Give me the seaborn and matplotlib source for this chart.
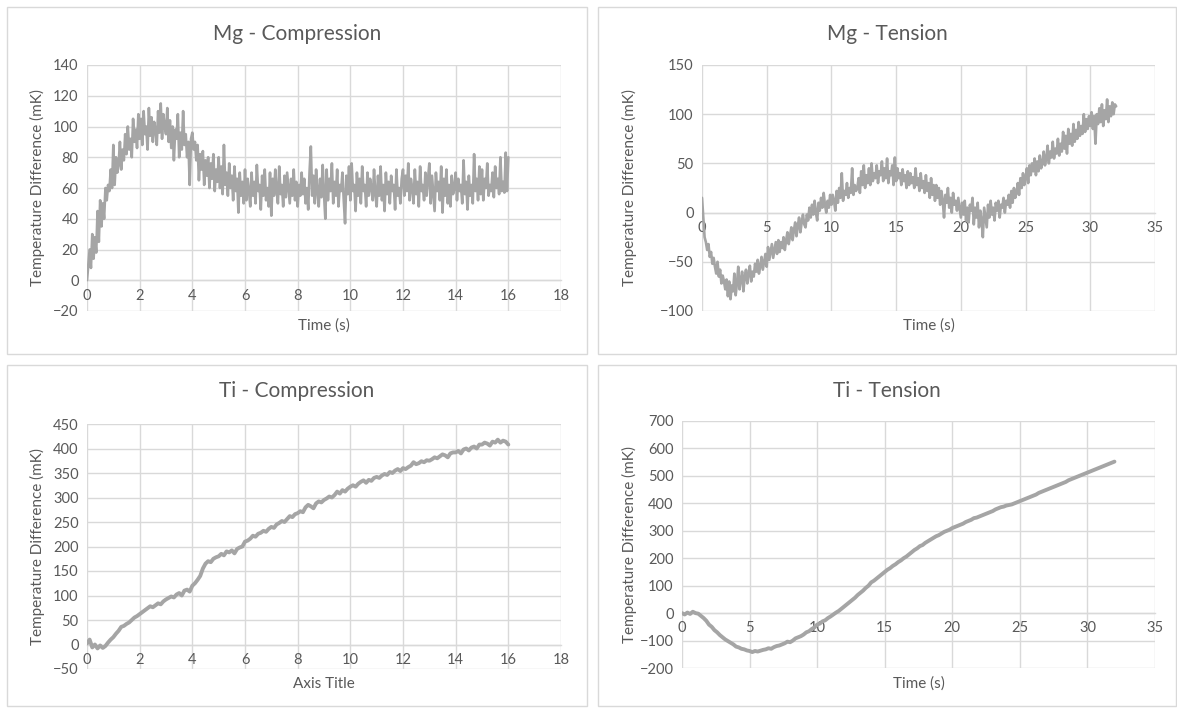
import numpy as np
import pandas as pd
import seaborn as sns
import matplotlib
matplotlib.use("Agg")
import matplotlib.pyplot as plt
from matplotlib.patches import Rectangle

# ---------------- data ----------------
# Mg compression, 0..16 s, every 0.05 s
mg_comp_vals = [
    0, 10, 20, 8, 30, 14, 28, 18, 45, 25, 52, 35, 50, 40, 60, 52, 62, 58, 72, 60,
    88, 62, 80, 70, 75, 90, 72, 85, 78, 95, 82, 100, 85, 92, 80, 105, 90, 98, 86, 108,
    92, 105, 88, 110, 95, 100, 85, 112, 94, 106, 90, 103, 98, 88, 110, 96, 115, 92, 108, 100,
    95, 112, 90, 104, 86, 100, 78, 98, 92, 108, 80, 96, 85, 110, 88, 95, 80, 90, 62, 92,
    96, 85, 90, 78, 88, 65, 82, 72, 84, 62, 78, 68, 80, 60, 76, 66, 82, 58, 72, 64,
    80, 60, 74, 56, 88, 62, 70, 55, 76, 60, 68, 52, 74, 58, 66, 44, 70, 55, 64, 50,
    72, 52, 66, 58, 48, 70, 55, 64, 50, 75, 58, 62, 46, 68, 55, 72, 52, 60, 48, 70,
    42, 66, 55, 72, 58, 50, 74, 56, 62, 48, 68, 54, 70, 60, 50, 66, 55, 72, 52, 64,
    48, 62, 55, 70, 56, 66, 50, 60, 46, 70, 87, 55, 68, 50, 72, 58, 48, 66, 54, 75,
    56, 40, 72, 52, 66, 58, 76, 50, 64, 55, 72, 48, 62, 58, 70, 52, 37, 68, 56, 74,
    52, 76, 58, 62, 45, 70, 55, 66, 50, 74, 58, 62, 48, 70, 55, 66, 60, 52, 72, 56,
    48, 68, 55, 74, 52, 62, 45, 70, 56, 64, 50, 68, 58, 62, 46, 72, 55, 60, 50, 66,
    72, 55, 68, 58, 76, 52, 66, 60, 50, 72, 56, 64, 48, 74, 58, 62, 52, 70, 55, 66,
    76, 50, 68, 56, 45, 70, 58, 64, 52, 74, 44, 66, 55, 72, 50, 62, 48, 68, 56, 60,
    70, 52, 66, 58, 62, 50, 78, 56, 64, 46, 68, 55, 62, 50, 82, 58, 66, 52, 74, 56,
    72, 52, 66, 60, 76, 55, 62, 58, 70, 54, 74, 60, 66, 56, 80, 58, 64, 57, 83, 58,
    80,
]

# Mg tension, 0..32 s, every 0.1 s
mg_tens_vals = [
    15, -5, -25, -30, -38, -32, -45, -40, -52, -46, -55, -62, -50, -65, -58, -72, -64, -70, -78, -68,
    -85, -70, -88, -74, -80, -62, -84, -72, -55, -78, -68, -60, -80, -65, -58, -72, -62, -54, -70, -60,
    -65, -52, -60, -48, -62, -55, -45, -58, -50, -42, -55, -35, -48, -40, -32, -46, -38, -30, -42, -28,
    -40, -30, -36, -25, -38, -28, -20, -32, -24, -15, -28, -18, -10, -24, -14, -5, -20, -10, -2, -12,
    -15, -2, -8, 5, -5, 8, -2, 12, 0, -8, 10, 2, 15, 5, 20, 8, 0, 12, 5, 18,
    8, 18, 12, 2, 22, 10, 25, 15, 40, 12, 22, 18, 30, 15, 25, 20, 45, 18, 28, 22,
    25, 35, 20, 42, 28, 48, 25, 38, 30, 45, 28, 50, 32, 40, 35, 48, 30, 42, 38, 52,
    32, 45, 35, 55, 30, 42, 38, 48, 28, 56, 32, 45, 35, 40, 28, 44, 32, 38, 25, 42,
    28, 40, 30, 36, 25, 45, 28, 35, 22, 40, 25, 32, 20, 38, 22, 30, 15, 35, 18, 28,
    12, 28, 15, 25, 8, 22, 12, -5, 18, 10, 25, 5, 15, 0, 20, 8, 12, 2, 15, 5,
    -5, 10, -2, 12, -8, 5, -10, 8, 2, 15, -12, 5, -5, 10, -15, 2, -8, -25, 5, -5,
    -15, 8, -5, 12, -2, 5, -8, 10, 2, 12, -5, 8, 5, 15, 0, 12, 8, 18, 5, 22,
    10, 25, 15, 20, 30, 18, 35, 25, 40, 28, 35, 45, 30, 48, 38, 50, 42, 55, 38, 52,
    42, 58, 45, 50, 62, 48, 55, 68, 50, 62, 56, 72, 55, 65, 60, 75, 58, 70, 62, 82,
    65, 78, 60, 85, 70, 80, 68, 90, 72, 84, 75, 92, 78, 88, 80, 100, 82, 95, 85, 98,
    88, 102, 85, 98, 70, 100, 90, 106, 92, 110, 88, 104, 95, 115, 92, 108, 98, 112, 100, 110,
    108,
]

# Ti compression, 0..16 s, every 0.1 s
ti_comp_vals = [
    2, 10, -6, 0, -8, -2, -7, -3, 4, 10,
    15, 22, 28, 36, 38, 42, 45, 50, 55, 58,
    62, 66, 70, 74, 78, 76, 80, 84, 82, 88,
    92, 95, 98, 96, 102, 105, 100, 110, 112, 108,
    120, 125, 132, 140, 155, 165, 170, 168, 175, 178,
    180, 185, 182, 190, 188, 192, 186, 195, 198, 200,
    210, 212, 216, 222, 220, 226, 228, 232, 230, 236,
    240, 238, 245, 248, 252, 250, 256, 262, 260, 266,
    268, 272, 270, 280, 285, 282, 278, 288, 292, 290,
    295, 298, 302, 300, 305, 312, 308, 315, 312, 318,
    322, 325, 322, 328, 332, 335, 330, 336, 334, 340,
    342, 340, 345, 348, 346, 352, 350, 355, 358, 354,
    360, 358, 362, 365, 372, 368, 370, 374, 372, 376,
    375, 378, 382, 380, 384, 388, 386, 382, 390, 392,
    392, 395, 390, 398, 400, 396, 402, 404, 400, 408,
    408, 412, 410, 406, 414, 412, 418, 412, 416, 414,
    408,
]

# Ti tension, 0..32 s, every 0.2 s
ti_tens_vals = [
    0, -5, 2, -3, 5, 0, -2, -10, -18, -28,
    -42, -50, -62, -70, -80, -88, -96, -102, -108, -114,
    -122, -125, -130, -132, -136, -138, -142, -138, -140, -137,
    -134, -132, -128, -130, -124, -120, -118, -114, -110, -104,
    -106, -100, -92, -88, -84, -78, -70, -66, -58, -52,
    -42, -38, -30, -26, -18, -12, -5, 2, 8, 16,
    24, 32, 40, 48, 56, 66, 74, 82, 92, 100,
    112, 118, 126, 134, 142, 150, 158, 164, 172, 178,
    186, 192, 200, 206, 214, 222, 230, 236, 244, 248,
    256, 262, 268, 274, 280, 284, 290, 296, 300, 304,
    310, 314, 318, 322, 326, 332, 336, 340, 346, 348,
    352, 356, 360, 364, 368, 372, 378, 382, 386, 388,
    392, 394, 396, 400, 404, 408, 412, 416, 420, 424,
    428, 432, 438, 442, 446, 450, 454, 458, 462, 466,
    470, 474, 478, 484, 488, 492, 496, 500, 504, 508,
    512, 516, 520, 524, 528, 532, 536, 540, 544, 548,
    552,
]

titles = ["Mg - Compression", "Mg - Tension", "Ti - Compression", "Ti - Tension"]
x_labels = ["Time (s)", "Time (s)", "Axis Title", "Time (s)"]
y_label = "Temperature Difference (mK)"
x_ticks = [list(range(0, 19, 2)), list(range(0, 36, 5)), list(range(0, 19, 2)), list(range(0, 36, 5))]
y_ticks = [list(range(-20, 141, 20)), list(range(-100, 151, 50)),
           list(range(-50, 451, 50)), list(range(-200, 701, 100))]
t_end = [16, 32, 16, 32]

# ---------------- style ----------------
sns.set_style("white")
plt.rcParams["font.family"] = ["Lato", "DejaVu Sans"]
TEXT = "#595959"
GRID = "#d9d9d9"
LINE = "#a5a5a5"
line_widths = [1.9, 1.9, 2.8, 2.8]

W, H = 1177, 711
fig = plt.figure(figsize=(W / 100, H / 100), dpi=100)
fig.patch.set_facecolor("white")

def fx(px):
    return px / W

def fy(py):
    return 1 - py / H

# panel boxes (pixel coords: x0, y0, x1, y1)
boxes = [(7, 7, 587, 354), (598, 7, 1176, 354), (7, 365, 587, 706), (598, 365, 1176, 706)]
# plot areas (pixel coords: left, top, right, bottom)
areas = [(87, 65, 561, 311), (702, 65, 1155, 311), (87, 424, 561, 669), (682, 421, 1155, 668)]
title_y = [34, 34, 391, 391]
xlabel_y = [326, 326, 684, 684]
ylabel_x = [37, 629, 37, 629]

for (x0, y0, x1, y1) in boxes:
    fig.patches.append(Rectangle((fx(x0), fy(y1)), fx(x1 - x0), (y1 - y0) / H,
                                 transform=fig.transFigure, facecolor="none",
                                 edgecolor=GRID, linewidth=1.0, zorder=-5))

series = [mg_comp_vals, mg_tens_vals, ti_comp_vals, ti_tens_vals]

for i in range(4):
    l, t, r, b = areas[i]
    ax = fig.add_axes([fx(l), fy(b), fx(r - l), (b - t) / H])
    vals = series[i]
    df = pd.DataFrame({"t": np.linspace(0, t_end[i], len(vals)), "v": vals})
    sns.lineplot(data=df, x="t", y="v", ax=ax, color=LINE, linewidth=line_widths[i], zorder=3)
    ax.set_xlim(x_ticks[i][0], x_ticks[i][-1])
    ax.set_ylim(y_ticks[i][0], y_ticks[i][-1])
    ax.set_xticks(x_ticks[i])
    ax.set_yticks(y_ticks[i])
    ax.grid(True, color=GRID, linewidth=1.0)
    ax.set_axisbelow(True)
    for s in ["top", "right", "left"]:
        ax.spines[s].set_visible(False)
    ax.spines["bottom"].set_position(("data", 0))
    ax.spines["bottom"].set_color(GRID)
    ax.spines["bottom"].set_linewidth(1.0)
    ax.tick_params(axis="both", length=0, labelsize=10.5, colors=TEXT)
    ax.tick_params(axis="x", pad=6)
    ax.tick_params(axis="y", pad=6)
    ax.set_xlabel("")
    ax.set_ylabel("")
    ax.patch.set_alpha(0)

    bx0, _, bx1, _ = boxes[i]
    fig.text(fx((bx0 + bx1) / 2), fy(title_y[i]), titles[i], ha="center", va="center",
             fontsize=15, color=TEXT)
    fig.text(fx((l + r) / 2), fy(xlabel_y[i]), x_labels[i], ha="center", va="center",
             fontsize=11, color=TEXT)
    fig.text(fx(ylabel_x[i]), fy((t + b) / 2), y_label, ha="center", va="center",
             rotation=90, fontsize=11, color=TEXT)

fig.savefig("out.png", dpi=100, facecolor="white")
